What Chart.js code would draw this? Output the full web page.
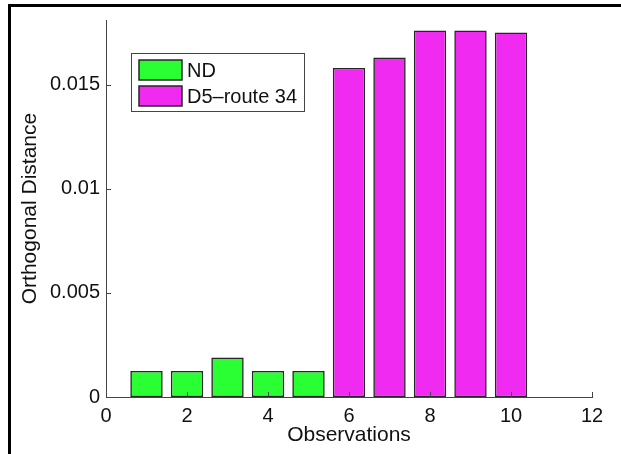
<!DOCTYPE html>
<html>
<head>
<meta charset="utf-8">
<title>Orthogonal Distance</title>
<script src="https://cdn.jsdelivr.net/npm/chart.js@4.4.1/dist/chart.umd.min.js"></script>
<style>
    html, body { margin: 0; padding: 0; background: #fff; }
    #wrap { position: relative; width: 621px; height: 454px; }
    #frame {
        position: absolute; left: 8px; top: 4px; right: 0; bottom: 0;
        border-top: 3px solid #000; border-left: 3px solid #000;
        pointer-events: none;
    }
</style>
</head>
<body>
<div id="wrap">
    <canvas id="DistanceChart" width="621" height="454"></canvas>
    <div id="frame"></div>
</div>
<script>
const ndObs = [1, 2, 3, 4, 5];
const ndValues = [0.00125, 0.00125, 0.0019, 0.00125, 0.00125];
const routeObs = [6, 7, 8, 9, 10];
const routeValues = [0.0158, 0.0163, 0.0176, 0.0176, 0.0175];
const xTickStep = 2;
const yTickStep = 0.005;

const FONT = "'Liberation Sans', Arial, Helvetica, sans-serif";
const AXIS_COLOR = "#444";

const toPoints = (xs, ys) => xs.map((x, i) => ({ x: x, y: ys[i] }));

// matlab style ticks pointing into the plot
const innerTicks = {
    id: "innerTicks",
    afterDraw(chart) {
        const ctx = chart.ctx;
        const area = chart.chartArea;
        const xs = chart.scales.x;
        const ys = chart.scales.y;
        ctx.save();
        ctx.strokeStyle = AXIS_COLOR;
        ctx.lineWidth = 1;
        ctx.beginPath();
        xs.ticks.forEach(t => {
            const px = Math.round(xs.getPixelForValue(t.value)) + 0.5;
            ctx.moveTo(px, area.bottom);
            ctx.lineTo(px, area.bottom - 5);
        });
        ys.ticks.forEach(t => {
            const py = Math.round(ys.getPixelForValue(t.value)) + 0.5;
            ctx.moveTo(area.left, py);
            ctx.lineTo(area.left + 5, py);
        });
        ctx.stroke();
        ctx.restore();
    }
};

// boxed legend sitting inside the axes, upper left
const boxLegend = {
    id: "boxLegend",
    afterDraw(chart) {
        const ctx = chart.ctx;
        const area = chart.chartArea;
        const bx = area.left + 25;
        const by = area.top + 33;
        const bw = 173;
        const bh = 58;
        ctx.save();
        ctx.fillStyle = "#fff";
        ctx.fillRect(bx, by, bw, bh);
        ctx.strokeStyle = AXIS_COLOR;
        ctx.lineWidth = 1;
        ctx.strokeRect(bx + 0.5, by + 0.5, bw, bh);
        ctx.font = "20px " + FONT;
        ctx.textBaseline = "middle";
        chart.data.datasets.forEach((ds, i) => {
            const sy = by + 7 + i * 26;
            ctx.fillStyle = ds.backgroundColor;
            ctx.fillRect(bx + 8, sy, 43, 20);
            ctx.strokeStyle = ds.borderColor;
            ctx.lineWidth = 1.5;
            ctx.strokeRect(bx + 8, sy, 43, 20);
            ctx.fillStyle = "#111";
            ctx.fillText(ds.label, bx + 56, sy + 11);
        });
        ctx.restore();
    }
};

const ctx = document.getElementById("DistanceChart").getContext("2d");

const distanceChart = new Chart(ctx, {
    type: "bar",
    data: {
        datasets: [
            {
                label: "ND",
                data: toPoints(ndObs, ndValues),
                backgroundColor: "#2aff33",
                borderColor: "#262626",
                borderWidth: 1.6,
                borderSkipped: false
            },
            {
                label: "D5\u2013route 34",
                data: toPoints(routeObs, routeValues),
                backgroundColor: "#f02af0",
                borderColor: "#262626",
                borderWidth: 1.6,
                borderSkipped: false
            }
        ]
    },
    options: {
        responsive: false,
        animation: false,
        devicePixelRatio: 1,
        grouped: false,
        barPercentage: 0.8,
        categoryPercentage: 1,
        layout: {
            padding: { left: 10, top: 20, right: 29, bottom: 0 }
        },
        plugins: {
            legend: { display: false },
            tooltip: { enabled: false }
        },
        scales: {
            x: {
                type: "linear",
                min: 0,
                max: 12,
                offset: false,
                grid: { display: false, drawTicks: false },
                border: { display: true, color: AXIS_COLOR, width: 1 },
                ticks: {
                    stepSize: xTickStep,
                    padding: 7,
                    color: "#111",
                    font: { family: FONT, size: 20 }
                },
                title: {
                    display: true,
                    text: "Observations",
                    color: "#111",
                    font: { family: FONT, size: 21 },
                    padding: { top: 0, bottom: 6 }
                },
                afterFit: (scale) => { scale.height = 57; }
            },
            y: {
                min: 0,
                max: 0.0181,
                grid: { display: false, drawTicks: false },
                border: { display: true, color: AXIS_COLOR, width: 1 },
                ticks: {
                    stepSize: yTickStep,
                    includeBounds: false,
                    padding: 6,
                    color: "#111",
                    font: { family: FONT, size: 20 },
                    callback: (v) => String(Number(v.toFixed(4)))
                },
                title: {
                    display: true,
                    text: "Orthogonal Distance",
                    color: "#111",
                    font: { family: FONT, size: 21 },
                    padding: { top: 8, bottom: 0 }
                },
                afterFit: (scale) => { scale.width = 96; }
            }
        }
    },
    plugins: [innerTicks, boxLegend]
});
</script>
</body>
</html>
